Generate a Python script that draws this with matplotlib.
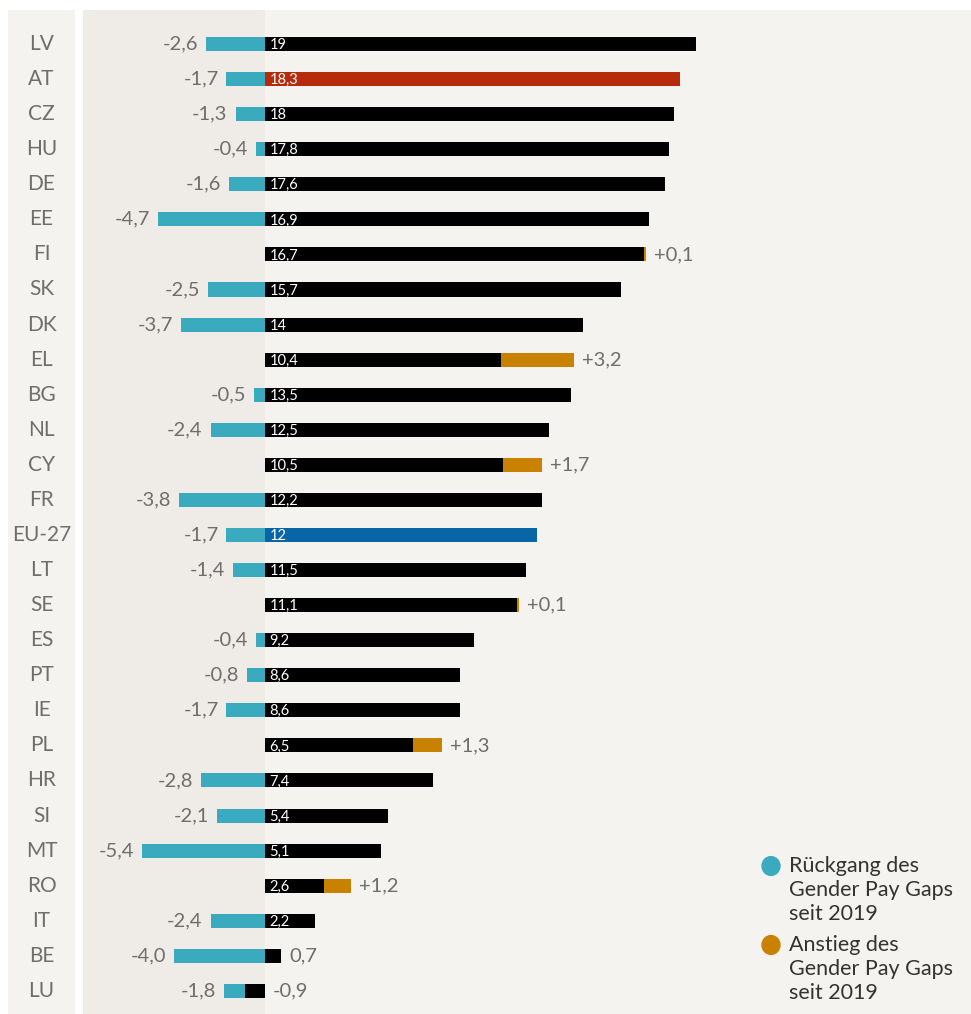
import numpy as np
import matplotlib.pyplot as plt

plt.rcParams['font.family'] = ['Lato', 'DejaVu Sans']

# Länder, aktueller Gender Pay Gap (%) und Veränderung seit 2019
countries = ["LV", "AT", "CZ", "HU", "DE", "EE", "FI", "SK", "DK", "EL",
             "BG", "NL", "CY", "FR", "EU-27", "LT", "SE", "ES", "PT", "IE",
             "PL", "HR", "SI", "MT", "RO", "IT", "BE", "LU"]
gap = [19, 18.3, 18, 17.8, 17.6, 16.9, 16.7, 15.7, 14, 10.4,
       13.5, 12.5, 10.5, 12.2, 12, 11.5, 11.1, 9.2, 8.6, 8.6,
       6.5, 7.4, 5.4, 5.1, 2.6, 2.2, 0.7, -0.9]
change = [-2.6, -1.7, -1.3, -0.4, -1.6, -4.7, 0.1, -2.5, -3.7, 3.2,
          -0.5, -2.4, 1.7, -3.8, -1.7, -1.4, 0.1, -0.4, -0.8, -1.7,
          1.3, -2.8, -2.1, -5.4, 1.2, -2.4, -4.0, -1.8]

CYAN = "#3aabbe"
ORANGE = "#c98200"
BLACK = "#000000"
RED = "#b82a0c"
BLUE = "#0866a8"
GRAY = "#6e6e6e"
highlight = {"AT": RED, "EU-27": BLUE}

fig = plt.figure(figsize=(9.71, 10.14), dpi=100)
fig.patch.set_facecolor("white")

W, H = 971, 1014
ax = fig.add_axes([83 / W, 0, (971 - 83) / W, 1004 / H])
lab = fig.add_axes([8 / W, 0, 67 / W, 1004 / H])

ymin, ymax = -0.97, 27.66
xmin, xmax = -8.02, 31.1
ax.set_xlim(xmin, xmax)
ax.set_ylim(ymax, ymin)
ax.set_facecolor("#f5f3ef")
ax.axvspan(xmin, 0, color="#efebe7", lw=0, zorder=0)

lab.set_xlim(0, 1)
lab.set_ylim(ymax, ymin)
lab.set_facecolor("#f4f3f0")

h = 0.4
fmt = lambda v: f"{v:g}".replace(".", ",")
for i, (c, g, d) in enumerate(zip(countries, gap, change)):
    col = highlight.get(c, BLACK)
    if d < 0:
        ax.barh(i, d, height=h, color=CYAN, lw=0, zorder=2)
        ax.text(d - 0.35, i, f"{d:.1f}".replace(".", ","), ha="right", va="center",
                fontsize=14.5, color=GRAY)
        ax.barh(i, g, height=h, color=col, lw=0, zorder=3)
    else:
        ax.barh(i, g, height=h, color=col, lw=0, zorder=3)
        ax.barh(i, d, left=g, height=h, color=ORANGE, lw=0, zorder=3)
        ax.text(g + d + 0.35, i, f"+{d:.1f}".replace(".", ","), ha="left", va="center",
                fontsize=14.5, color=GRAY)
    if g >= 2:
        ax.text(0.2, i + 0.03, fmt(g), ha="left", va="center", fontsize=10.5,
                color="white", zorder=4)
    else:
        ax.text(max(g, 0) + 0.35, i, fmt(g), ha="left", va="center",
                fontsize=14.5, color=GRAY)
    lab.text(0.5, i, c, ha="center", va="center", fontsize=15, color=GRAY)

for a in (ax, lab):
    a.set_xticks([])
    a.set_yticks([])
    for s in a.spines.values():
        s.set_visible(False)

# Legende
leg_items = [(CYAN, ["Rückgang des", "Gender Pay Gaps", "seit 2019"], 866),
             (ORANGE, ["Anstieg des", "Gender Pay Gaps", "seit 2019"], 945)]
for color, lines, py in leg_items:
    fig.patches.append(plt.Circle((771 / W, 1 - py / H), 9 / W, color=color,
                                  transform=fig.transFigure, figure=fig))
    for k, line in enumerate(lines):
        fig.text(789 / W, 1 - (py + 24 * k) / H, line, ha="left", va="center",
                 fontsize=15.5, color="#333333")

fig.savefig("out.png", dpi=100)
